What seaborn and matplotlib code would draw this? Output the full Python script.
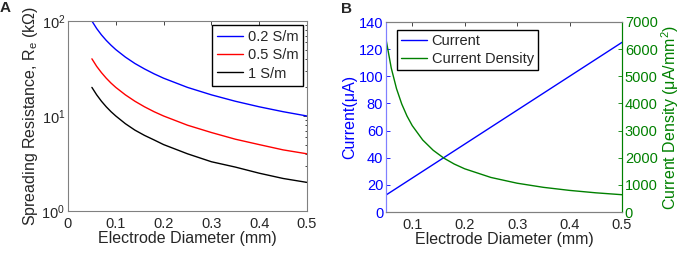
import numpy as np
import pandas as pd
import matplotlib
matplotlib.use('Agg')
import matplotlib.pyplot as plt
import seaborn as sns

sns.set_style('white')
plt.rcParams['font.family'] = ['Liberation Sans', 'DejaVu Sans']
plt.rcParams['mathtext.fontset'] = 'custom'
plt.rcParams['mathtext.rm'] = 'Liberation Sans'
plt.rcParams['mathtext.it'] = 'Liberation Sans'

# electrode diameter (mm)
diameter = [0.05, 0.06, 0.07, 0.08, 0.09, 0.10, 0.12, 0.14, 0.16, 0.18,
            0.20, 0.25, 0.30, 0.35, 0.40, 0.45, 0.50]

# spreading resistance (kOhm) for three conductivities
r_02 = [100, 83.3, 71.4, 62.5, 55.6, 50, 41.7, 35.7, 31.3, 27.8,
        25, 20, 16.7, 14.3, 12.5, 11.1, 10]
r_05 = [40, 33.3, 28.6, 25, 22.2, 20, 16.7, 14.3, 12.5, 11.1,
        10, 8, 6.7, 5.7, 5, 4.4, 4]
r_1 = [20, 16.7, 14.3, 12.5, 11.1, 10, 8.3, 7.1, 6.25, 5.6,
       5, 4, 3.3, 2.9, 2.5, 2.2, 2]

# current (uA) and current density (uA/mm^2)
current = [12.5, 15, 17.5, 20, 22.5, 25, 30, 35, 40, 45,
           50, 62.5, 75, 87.5, 100, 112.5, 125]
density = [6366, 5305, 4547, 3979, 3537, 3183, 2653, 2274, 1989, 1768,
           1592, 1273, 1061, 909, 796, 707, 637]

dfa = pd.DataFrame({'d': diameter * 3,
                    'R': r_02 + r_05 + r_1,
                    'sigma': ['0.2 S/m'] * 17 + ['0.5 S/m'] * 17 + ['1 S/m'] * 17})
dfb = pd.DataFrame({'d': diameter, 'I': current, 'J': density})

BLUE = (0, 0, 1)
GREEN = (0, 0.5, 0)
SPINE = '#808080'
FS_LAB = 11.5
FS_TICK = 10.5

fig = plt.figure(figsize=(6.8, 2.56), dpi=100)
ax1 = fig.add_axes([68 / 680, 1 - 211 / 256, 239 / 680, 190 / 256])
ax2 = fig.add_axes([386 / 680, 1 - 212 / 256, 236 / 680, 190 / 256])

# panel A
sns.lineplot(data=dfa, x='d', y='R', hue='sigma',
             palette=[BLUE, (1, 0, 0), (0, 0, 0)], lw=1, ax=ax1)
ax1.set_yscale('log')
ax1.set_xlim(0, 0.5)
ax1.set_ylim(1, 100)
ax1.set_xticks([0, 0.1, 0.2, 0.3, 0.4, 0.5])
ax1.set_xticklabels(['0', '0.1', '0.2', '0.3', '0.4', '0.5'])
ax1.set_xlabel('Electrode Diameter (mm)', fontsize=FS_LAB, labelpad=0)
ax1.set_ylabel('Spreading Resistance, R$_\\mathregular{e}$ (k\u03a9)', fontsize=FS_LAB, labelpad=1)
ax1.legend(loc='upper right', fontsize=FS_TICK, frameon=True, fancybox=False,
           edgecolor='black', framealpha=1, handlelength=1.8,
           borderaxespad=0.25, labelspacing=0.3, handletextpad=0.3,
           borderpad=0.35)
ax1.text(-0.285, 1.03, 'A', transform=ax1.transAxes, fontsize=11,
         fontweight='bold', ha='left', va='bottom')

# panel B
sns.lineplot(data=dfb, x='d', y='I', color=BLUE, lw=1, ax=ax2, label='Current')
ax3 = ax2.twinx()
sns.lineplot(data=dfb, x='d', y='J', color=GREEN, lw=1, ax=ax3, label='Current Density')
ax2.set_xlim(0.05, 0.5)
ax2.set_ylim(0, 140)
ax2.set_yticks(range(0, 141, 20))
ax3.set_ylim(0, 7000)
ax3.set_yticks(range(0, 7001, 1000))
ax2.set_xticks([0.1, 0.2, 0.3, 0.4, 0.5])
ax2.set_xlabel('Electrode Diameter (mm)', fontsize=FS_LAB, labelpad=0)
ax2.set_ylabel('Current(\u03bcA)', fontsize=FS_LAB, color=BLUE, labelpad=1)
ax3.set_ylabel('Current Density (\u03bcA/mm$^\\mathregular{2}$)', fontsize=FS_LAB,
               color=GREEN, labelpad=1)
ax2.tick_params(axis='y', colors=BLUE)
ax3.tick_params(axis='y', colors=GREEN)
h1, l1 = ax2.get_legend_handles_labels()
h2, l2 = ax3.get_legend_handles_labels()
ax3.get_legend().remove()
ax2.legend(h1 + h2, l1 + l2, loc='upper left', fontsize=FS_TICK, frameon=True,
           fancybox=False, edgecolor='black', framealpha=1, handlelength=1.8,
           borderaxespad=0, labelspacing=0.25, handletextpad=0.3,
           borderpad=0.3, bbox_to_anchor=(0.045, 0.96))
ax2.text(-0.19, 1.03, 'B', transform=ax2.transAxes, fontsize=11,
         fontweight='bold', ha='left', va='bottom')

for ax in (ax1, ax2, ax3):
    ax.tick_params(direction='in', length=3, width=0.6, labelsize=FS_TICK, pad=2,
                   top=(ax is not ax3), which='both')
    for s in ax.spines.values():
        s.set_linewidth(0.8)
        s.set_color(SPINE)
ax1.tick_params(which='both', right=True)
ax1.tick_params(which='minor', length=1.5)
ax1.tick_params(axis='x', pad=4)
ax2.tick_params(axis='x', pad=4)
ax2.spines['left'].set_color('#8080ff')
ax3.spines['left'].set_color('#8080ff')
ax3.spines['right'].set_color(GREEN)
ax2.spines['right'].set_color(GREEN)

fig.savefig('out.png', dpi=100)
